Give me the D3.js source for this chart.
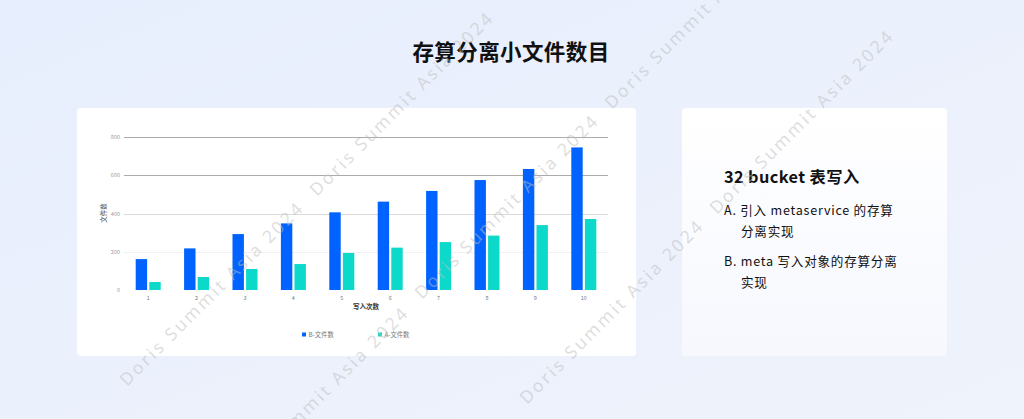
<!DOCTYPE html>
<html><head><meta charset="utf-8">
<script src="https://cdn.jsdelivr.net/npm/d3@7"></script>
<style>html,body{margin:0;padding:0;overflow:hidden;}svg{display:block;font-family:"Noto Sans CJK SC","Noto Sans",sans-serif;}</style>
</head><body><div id="c"></div>
<script>
const categories = ["1","2","3","4","5","6","7","8","9","10"];
const seriesNames = ["B-文件数","A-文件数"];
const seriesB = [162,218,293,349,407,463,519,576,634,747];
const seriesA = [42,68,110,136,194,222,251,285,340,372];
const yTicks = [0,200,400,600,800];
const colors = ["#0063FF","#0DD9CB"];

const W=1024,H=419;
const svg=d3.select("#c").append("svg").attr("width",W).attr("height",H);
const defs=svg.append("defs");
const g=defs.append("linearGradient").attr("id","bg").attr("x1","0").attr("y1","0").attr("x2","1").attr("y2","1");
g.append("stop").attr("offset","0").attr("stop-color","#e7eefd");
g.append("stop").attr("offset","1").attr("stop-color","#eff3fb");
const g2=defs.append("linearGradient").attr("id","card2").attr("x1","0").attr("y1","0").attr("x2","0").attr("y2","1");
g2.append("stop").attr("offset","0").attr("stop-color","#ffffff");
g2.append("stop").attr("offset","1").attr("stop-color","#f6f8fe");
svg.append("rect").attr("width",W).attr("height",H).attr("fill","url(#bg)");

svg.append("text").attr("x",511).attr("y",60).attr("text-anchor","middle")
  .attr("font-size",21.5).attr("font-weight","bold").attr("letter-spacing",0.4).attr("fill","#111").text("存算分离小文件数目");

// cards
svg.append("rect").attr("x",77).attr("y",108).attr("width",559).attr("height",248).attr("rx",4).attr("fill","#fff");
svg.append("rect").attr("x",682).attr("y",108).attr("width",265).attr("height",248).attr("rx",4).attr("fill","url(#card2)");

// chart
const x=d3.scaleBand().domain(categories).range([124,608]);
const y=d3.scaleLinear().domain([0,800]).range([290,137.3]);
const gridCol={200:"#f2f2f2",400:"#dadada",600:"#ababab",800:"#ababab"};
const ch=svg.append("g");
ch.selectAll("line.grid").data(yTicks.slice(1)).join("line")
  .attr("x1",124).attr("x2",608).attr("y1",d=>Math.round(y(d))+0.5).attr("y2",d=>Math.round(y(d))+0.5)
  .attr("stroke",d=>gridCol[d]).attr("stroke-width",1);
ch.selectAll("text.yt").data(yTicks).join("text")
  .attr("x",120).attr("y",d=>y(d)+2).attr("text-anchor","end").attr("font-size",5.5).attr("fill","#999").text(d=>d);
ch.append("text").attr("transform","translate(106,213) rotate(-90)").attr("text-anchor","middle")
  .attr("font-size",6.5).attr("fill","#444").text("文件数");
const sub=d3.scaleBand().domain([0,1]).range([0,25]).paddingInner(0.16);
[seriesB,seriesA].forEach((s,si)=>{
  ch.selectAll("rect.s"+si).data(s).join("rect")
    .attr("x",(d,i)=>x(categories[i])+x.bandwidth()/2-12.5+sub(si))
    .attr("width",sub.bandwidth())
    .attr("y",d=>y(d)).attr("height",d=>y(0)-y(d)).attr("fill",colors[si]);
});
ch.selectAll("text.xt").data(categories).join("text")
  .attr("x",d=>x(d)+x.bandwidth()/2).attr("y",299.5).attr("text-anchor","middle")
  .attr("font-size",5.5).attr("fill","#777").text(d=>d);
ch.append("text").attr("x",366).attr("y",308.5).attr("text-anchor","middle")
  .attr("font-size",6.5).attr("font-weight","bold").attr("fill","#333").text("写入次数");
const lg=[{x:302},{x:378}];
seriesNames.forEach((n,i)=>{
  ch.append("rect").attr("x",lg[i].x).attr("y",332.5).attr("width",4).attr("height",4).attr("fill",colors[i]);
  ch.append("text").attr("x",lg[i].x+6.5).attr("y",337).attr("font-size",6.3).attr("fill","#777").text(n);
});

// right text
const rt=svg.append("g").attr("fill","#111");
rt.append("text").attr("x",724).attr("y",183).attr("font-size",16.3).attr("font-weight",600).attr("letter-spacing",0.4).text("32 bucket 表写入");
rt.append("text").attr("x",724).attr("y",214.5).attr("font-size",12.6).attr("letter-spacing",0.75).text("A. 引入 metaservice 的存算");
rt.append("text").attr("x",741).attr("y",236).attr("font-size",12.6).attr("letter-spacing",0.75).text("分离实现");
rt.append("text").attr("x",724).attr("y",265.5).attr("font-size",12.6).attr("letter-spacing",0.75).text("B. meta 写入对象的存算分离");
rt.append("text").attr("x",741).attr("y",287).attr("font-size",12.6).attr("letter-spacing",0.75).text("实现");

// watermarks
const wm=[[127,387],[317,197],[232,492],[422,300],[612,110],[527,405],[717,215]];
svg.append("g").selectAll("text").data(wm).join("text")
  .attr("transform",d=>`translate(${d[0]},${d[1]}) rotate(-45)`)
  .attr("font-size",17.5).attr("letter-spacing",2.6).attr("fill","#bdbdbd").attr("fill-opacity",0.5)
  .attr("font-family","Noto Sans, sans-serif").text("Doris Summit Asia 2024");
</script></body></html>
